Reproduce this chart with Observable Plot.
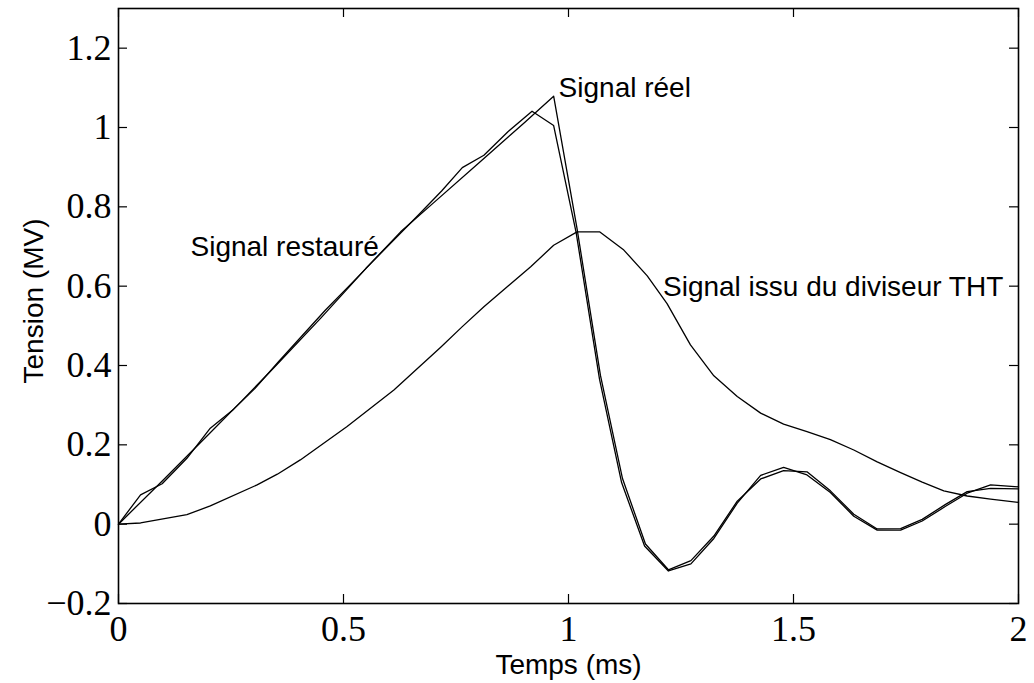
<!DOCTYPE html>
<html>
<head>
<meta charset="utf-8">
<script src="https://cdn.jsdelivr.net/npm/d3@7"></script>
<script src="https://cdn.jsdelivr.net/npm/@observablehq/plot@0.6"></script>
<style>
  html, body { margin: 0; padding: 0; background: #fff; }
</style>
</head>
<body>
<div id="chart"></div>
<script>
// Signal issu du diviseur THT (slow curve)
const slowX = [0, 0.049, 0.152, 0.204, 0.308, 0.353, 0.404, 0.508, 0.612, 0.716, 0.764, 0.812, 0.916, 0.967, 1.019, 1.069, 1.123, 1.175, 1.219, 1.271, 1.323, 1.375, 1.427, 1.478, 1.530, 1.582, 1.634, 1.686, 1.738, 1.786, 1.834, 1.886, 1.938, 2.0];
const slowY = [0, 0.003, 0.024, 0.046, 0.099, 0.126, 0.162, 0.246, 0.338, 0.446, 0.498, 0.548, 0.649, 0.703, 0.737, 0.737, 0.691, 0.626, 0.556, 0.452, 0.374, 0.322, 0.280, 0.252, 0.233, 0.213, 0.187, 0.157, 0.130, 0.106, 0.084, 0.071, 0.063, 0.055];

// Signal réel
const realX = [0, 0.1, 0.2, 0.275, 0.35, 0.45, 0.55, 0.627, 0.7, 0.8, 0.9, 0.967, 1.019, 1.071, 1.12, 1.171, 1.222, 1.272, 1.323, 1.375, 1.427, 1.478, 1.53, 1.582, 1.634, 1.686, 1.738, 1.786, 1.838, 1.886, 1.938, 2.0];
const realY = [0, 0.112, 0.226, 0.312, 0.40, 0.52, 0.645, 0.737, 0.81, 0.91, 1.01, 1.079, 0.745, 0.375, 0.115, -0.05, -0.115, -0.092, -0.03, 0.058, 0.114, 0.135, 0.132, 0.084, 0.025, -0.012, -0.011, 0.012, 0.05, 0.082, 0.09, 0.089];

// Signal restauré
const restX = [0, 0.049, 0.097, 0.152, 0.204, 0.256, 0.304, 0.356, 0.408, 0.46, 0.512, 0.563, 0.615, 0.667, 0.718, 0.764, 0.812, 0.866, 0.919, 0.967, 1.017, 1.069, 1.118, 1.169, 1.222, 1.272, 1.323, 1.375, 1.427, 1.478, 1.53, 1.582, 1.634, 1.686, 1.738, 1.786, 1.838, 1.886, 1.938, 2.0];
const restY = [0, 0.074, 0.102, 0.166, 0.242, 0.29, 0.343, 0.41, 0.475, 0.54, 0.6, 0.66, 0.72, 0.78, 0.84, 0.899, 0.93, 0.99, 1.041, 1.005, 0.735, 0.365, 0.105, -0.055, -0.118, -0.1, -0.036, 0.053, 0.123, 0.143, 0.124, 0.08, 0.02, -0.015, -0.015, 0.008, 0.045, 0.078, 0.099, 0.094];

// Ticks
const xTicks = [0, 0.5, 1, 1.5, 2];
const xTickLabels = ["0", "0.5", "1", "1.5", "2"];
const yTicks = [-0.2, 0, 0.2, 0.4, 0.6, 0.8, 1, 1.2];
const yTickLabels = ["\u22120.2", "0", "0.2", "0.4", "0.6", "0.8", "1", "1.2"];

// Curve annotations
const labelNames = ["Signal réel", "Signal restauré", "Signal issu du diviseur THT"];
const labelX = [0.978, 0.16, 1.21];
const labelY = [1.1, 0.698, 0.597];

const xAxisTitle = "Temps (ms)";
const yAxisTitle = "Tension (MV)";

const toRows = (xs, ys, name) => xs.map((x, i) => ({x, y: ys[i], name}));
const rows = [
  ...toRows(slowX, slowY, "slow"),
  ...toRows(realX, realY, "real"),
  ...toRows(restX, restY, "rest")
];
const labels = labelNames.map((t, i) => ({t, x: labelX[i], y: labelY[i]}));
const xLab = new Map(xTicks.map((d, i) => [d, xTickLabels[i]]));
const yLab = new Map(yTicks.map((d, i) => [d, yTickLabels[i]]));

const W = 1034, H = 683;
const mL = 118, mR = 16, mT = 8, mB = 80;
const fw = W - mL - mR, fh = H - mT - mB;
const tk = 9;

const serif = "Liberation Serif, Times New Roman, serif";
const sans = "Liberation Sans, Arial, Helvetica, sans-serif";

const chart = Plot.plot({
  width: W,
  height: H,
  marginLeft: mL,
  marginRight: mR,
  marginTop: mT,
  marginBottom: mB,
  style: {background: "#fff", color: "#000", overflow: "visible"},
  x: {domain: [0, 2]},
  y: {domain: [-0.2, 1.3]},
  marks: [
    Plot.line(rows, {x: "x", y: "y", z: "name", stroke: "#000", strokeWidth: 1.3}),
    Plot.frame({stroke: "#000", strokeWidth: 1.6}),
    // inward ticks on all four sides
    Plot.tickX(xTicks, {x: d => d, insetTop: fh - tk, stroke: "#000", strokeWidth: 1.2}),
    Plot.tickX(xTicks, {x: d => d, insetBottom: fh - tk, stroke: "#000", strokeWidth: 1.2}),
    Plot.tickY(yTicks, {y: d => d, insetRight: fw - tk, stroke: "#000", strokeWidth: 1.2}),
    Plot.tickY(yTicks, {y: d => d, insetLeft: fw - tk, stroke: "#000", strokeWidth: 1.2}),
    Plot.axisX(xTicks, {anchor: "bottom", tickSize: 0, tickPadding: 12, tickFormat: d => xLab.get(d), label: null, fontFamily: serif, fontSize: 36}),
    Plot.axisY(yTicks, {anchor: "left", tickSize: 0, tickPadding: 7, tickFormat: d => yLab.get(d), label: null, fontFamily: serif, fontSize: 36}),
    Plot.text(labels, {x: "x", y: "y", text: "t", textAnchor: "start", fontFamily: sans, fontSize: 28, fill: "#000"}),
    Plot.text([xAxisTitle], {frameAnchor: "bottom", dy: 62, textAnchor: "middle", lineAnchor: "middle", text: d => d, fontFamily: sans, fontSize: 28, fill: "#000"}),
    Plot.text([yAxisTitle], {frameAnchor: "left", dx: -84, dy: -5, rotate: -90, textAnchor: "middle", lineAnchor: "middle", text: d => d, fontFamily: sans, fontSize: 28, fill: "#000"})
  ]
});
document.getElementById("chart").appendChild(chart);
</script>
</body>
</html>
